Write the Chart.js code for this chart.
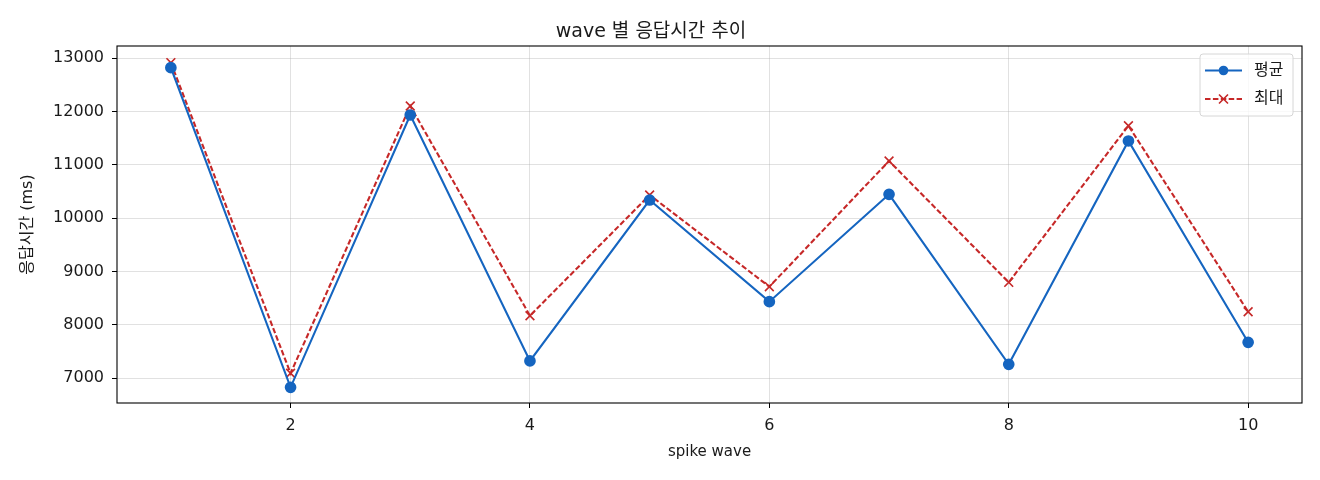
<!DOCTYPE html>
<html lang="ko">
<head>
  <meta charset="UTF-8">
  <title>wave 별 응답시간 추이</title>
  <style>
    html, body { margin: 0; padding: 0; background: #fff; }
    .wrap { width: 1320px; height: 480px; }
  </style>
</head>
<body>
<div class="wrap">
  <canvas id="lineChart"></canvas>
</div>

<script src="https://cdn.jsdelivr.net/npm/chart.js"></script>
<script>
  // data
  const waves = [1, 2, 3, 4, 5, 6, 7, 8, 9, 10];
  const avgMs = [12824, 6831, 11937, 7325, 10343, 8437, 10450, 7262, 11450, 7675];
  const maxMs = [12918, 7094, 12106, 8174, 10437, 8718, 11075, 8800, 11736, 8249];
  const xTicks = [2, 4, 6, 8, 10];
  const yTicks = [7000, 8000, 9000, 10000, 11000, 12000, 13000];

  const FONT = "'DejaVu Sans', 'Noto Sans CJK KR', sans-serif";
  const BLUE = '#1565C0';
  const RED = '#C62828';
  const GRID = 'rgba(176,176,176,0.38)';

  function toPoints(xs, ys) {
    return xs.map((x, i) => ({ x: x, y: ys[i] }));
  }

  // black frame around the plot area (matplotlib spines)
  const frame = {
    id: 'frame',
    afterDatasetsDraw(chart) {
      const a = chart.chartArea, ctx = chart.ctx;
      ctx.save();
      ctx.strokeStyle = '#000';
      ctx.lineWidth = 1.1;
      ctx.strokeRect(a.left, a.top, a.right - a.left, a.bottom - a.top);
      ctx.restore();
    }
  };

  // legend box in the upper right corner of the plot
  const innerLegend = {
    id: 'innerLegend',
    afterDraw(chart) {
      const a = chart.chartArea, ctx = chart.ctx;
      const w = 93, h = 62;
      const x0 = a.right - 9 - w, y0 = a.top + 8;
      ctx.save();
      ctx.fillStyle = 'rgba(255,255,255,0.8)';
      ctx.strokeStyle = '#d6d6d6';
      ctx.lineWidth = 1;
      ctx.beginPath();
      ctx.roundRect(x0, y0, w, h, 3);
      ctx.fill();
      ctx.stroke();

      const items = chart.data.datasets;
      items.forEach((ds, i) => {
        const cy = y0 + 16.5 + i * 28.5;
        const lx0 = x0 + 5, lx1 = x0 + 42, mx = (lx0 + lx1) / 2;
        ctx.strokeStyle = ds.borderColor;
        ctx.lineWidth = 2.1;
        ctx.setLineDash(ds.borderDash || []);
        ctx.beginPath();
        ctx.moveTo(lx0, cy);
        ctx.lineTo(lx1, cy);
        ctx.stroke();
        ctx.setLineDash([]);
        if (ds.pointStyle === 'crossRot') {
          ctx.strokeStyle = ds.pointBorderColor;
          ctx.lineWidth = 1.6;
          ctx.beginPath();
          ctx.moveTo(mx - 4.5, cy - 4.5); ctx.lineTo(mx + 4.5, cy + 4.5);
          ctx.moveTo(mx - 4.5, cy + 4.5); ctx.lineTo(mx + 4.5, cy - 4.5);
          ctx.stroke();
        } else {
          ctx.fillStyle = ds.pointBackgroundColor;
          ctx.beginPath();
          ctx.arc(mx, cy, 4.8, 0, Math.PI * 2);
          ctx.fill();
        }
        ctx.fillStyle = '#1a1a1a';
        ctx.font = '16px ' + FONT;
        ctx.textBaseline = 'middle';
        ctx.textAlign = 'left';
        ctx.fillText(ds.label, x0 + 54, cy);
      });
      ctx.restore();
    }
  };

  const ctx = document.getElementById('lineChart').getContext('2d');
  new Chart(ctx, {
    type: 'line',
    data: {
      datasets: [{
        label: '평균',
        data: toPoints(waves, avgMs),
        borderColor: BLUE,
        backgroundColor: BLUE,
        pointBackgroundColor: BLUE,
        pointBorderColor: BLUE,
        borderWidth: 2.1,
        pointRadius: 4.8,
        pointHoverRadius: 4.8,
        pointStyle: 'circle',
        tension: 0
      }, {
        label: '최대',
        data: toPoints(waves, maxMs),
        borderColor: RED,
        backgroundColor: RED,
        pointBackgroundColor: RED,
        pointBorderColor: RED,
        borderWidth: 2.1,
        borderDash: [5.5, 2.4],
        pointRadius: 6.2,
        pointBorderWidth: 1.6,
        pointHoverRadius: 6.2,
        pointStyle: 'crossRot',
        tension: 0
      }]
    },
    options: {
      responsive: true,
      maintainAspectRatio: false,
      animation: false,
      events: [],
      layout: { padding: { left: 0, right: 18, top: 0, bottom: 0 } },
      plugins: {
        legend: { display: false },
        tooltip: { enabled: false },
        title: {
          display: true,
          text: 'wave 별 응답시간 추이',
          color: '#1a1a1a',
          font: { family: FONT, size: 19, weight: 'normal' },
          padding: { top: 21, bottom: 2.2 }
        }
      },
      scales: {
        x: {
          type: 'linear',
          min: 0.55,
          max: 10.45,
          afterBuildTicks(scale) { scale.ticks = xTicks.map(v => ({ value: v })); },
          afterFit(scale) { scale.height = 77; },
          grid: { color: GRID, lineWidth: 1, tickColor: '#000', tickLength: 5 },
          border: { display: false },
          ticks: { color: '#1a1a1a', padding: 8, maxRotation: 0, font: { family: FONT, size: 16 } },
          title: {
            display: true,
            text: 'spike wave',
            color: '#1a1a1a',
            font: { family: FONT, size: 15 },
            padding: { top: 4, bottom: 19 }
          }
        },
        y: {
          type: 'linear',
          min: 6537,
          max: 13231,
          afterBuildTicks(scale) { scale.ticks = yTicks.map(v => ({ value: v })); },
          afterFit(scale) { scale.width = 117; },
          grid: { color: GRID, lineWidth: 1, tickColor: '#000', tickLength: 5 },
          border: { display: false },
          ticks: {
            color: '#1a1a1a',
            padding: 8,
            font: { family: FONT, size: 16 },
            callback: v => String(v)
          },
          title: {
            display: true,
            text: '응답시간 (ms)',
            color: '#1a1a1a',
            font: { family: FONT, size: 16 },
            padding: { top: 18, bottom: 0 }
          }
        }
      }
    },
    plugins: [frame, innerLegend]
  });
</script>
</body>
</html>
